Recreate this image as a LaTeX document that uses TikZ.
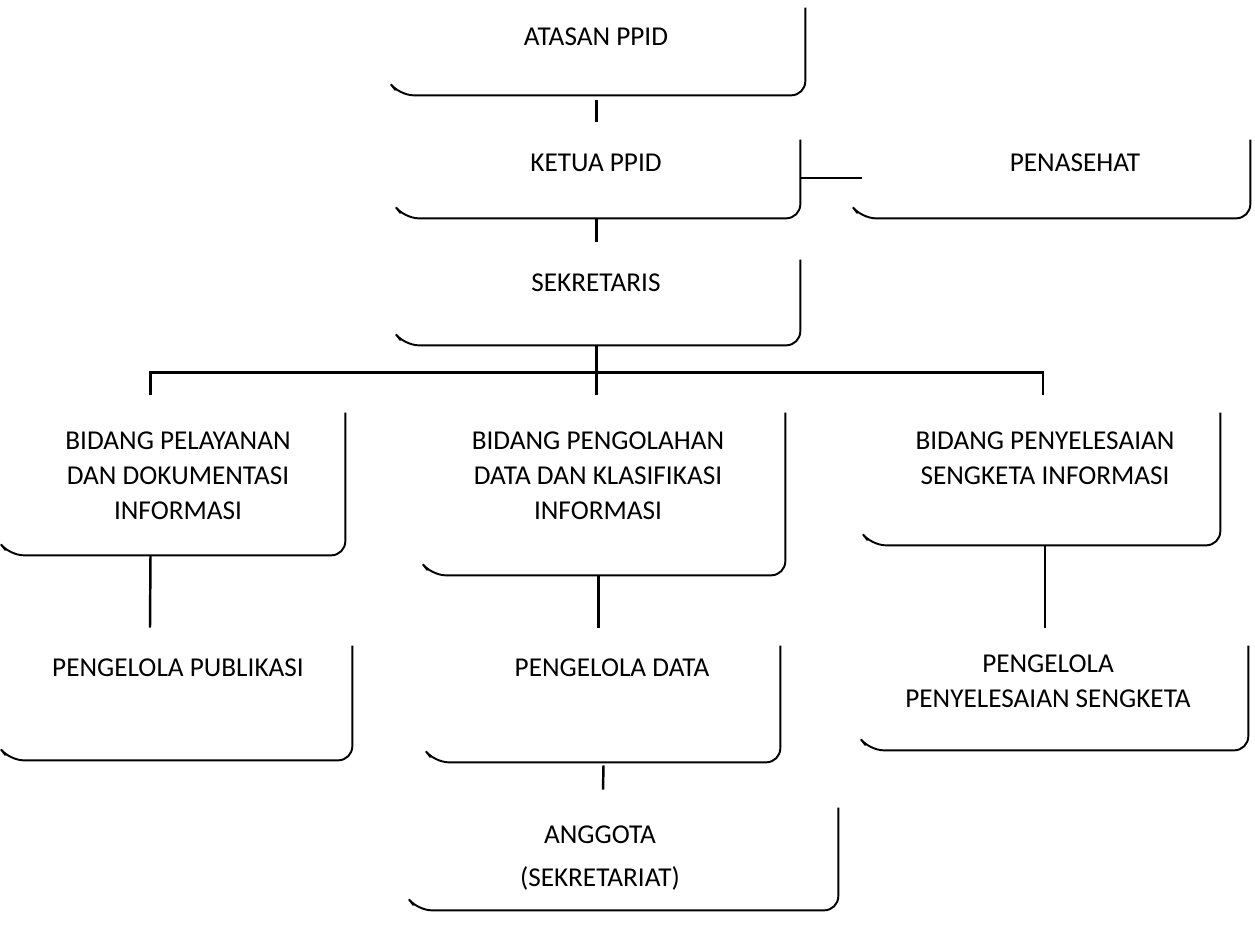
\documentclass[tikz,border=0pt]{standalone}
\usepackage{fontspec}
\setmainfont{Carlito}
\usetikzlibrary{positioning,calc}

\begin{document}
\begin{tikzpicture}[
    x=0.02cm, y=-0.02cm,
    box/.style={rectangle, inner sep=0pt},
    txt/.style={align=center, inner sep=0pt, font=\fontsize{15.5}{20}\selectfont},
    frame/.style={line width=1.1pt},
    link/.style={line width=1.4pt}
]
    \useasboundingbox (0,0) rectangle (1255,935);

    % boxes
    \node[box, minimum width=8.1cm, minimum height=2.1cm] (atasan) at (602.5,42.5) {};
    \node[box, minimum width=7.9cm, minimum height=1.92cm] (ketua) at (602.5,170) {};
    \node[box, minimum width=7.76cm, minimum height=1.92cm] (penasehat) at (1056,170) {};
    \node[box, minimum width=7.9cm, minimum height=2.06cm] (sekretaris) at (602.5,293.5) {};
    \node[box, minimum width=6.7cm, minimum height=3.2cm] (pelayanan) at (177.5,475) {};
    \node[box, minimum width=7.06cm, minimum height=3.6cm] (pengolahan) at (608.5,485) {};
    \node[box, minimum width=6.96cm, minimum height=3cm] (penyelesaian) at (1046,470) {};
    \node[box, minimum width=6.84cm, minimum height=2.64cm] (publikasi) at (181,694) {};
    \node[box, minimum width=6.9cm, minimum height=2.68cm] (pdata) at (607.5,695) {};
    \node[box, minimum width=7.56cm, minimum height=2.44cm] (psengketa) at (1059,689) {};
    \node[box, minimum width=8.4cm, minimum height=2.4cm] (anggota) at (628,850) {};

    \foreach \n in {atasan,ketua,penasehat,sekretaris,pelayanan,pengolahan,penyelesaian,publikasi,pdata,psengketa,anggota}
        \draw[frame] ($(\n.north east)+(0,18)$) [rounded corners=8pt] -- (\n.south east) -- (\n.south west) [sharp corners] -- ++(-4,-5);

    % labels
    \node[txt] (atasanT) at (596,37) {ATASAN PPID};
    \node[txt] (ketuaT) at (596,163) {KETUA PPID};
    \node[txt] (penasehatT) at (1075,163) {PENASEHAT};
    \node[txt] (sekretarisT) at (596,283) {SEKRETARIS};
    \node[txt] (pelayananT) at (178,476) {BIDANG PELAYANAN\\DAN DOKUMENTASI\\INFORMASI};
    \node[txt] (pengolahanT) at (598,476) {BIDANG PENGOLAHAN\\DATA DAN KLASIFIKASI\\INFORMASI};
    \node[txt] (penyelesaianT) at (1045,458) {BIDANG PENYELESAIAN\\SENGKETA INFORMASI};
    \node[txt] (publikasiT) at (178,668) {PENGELOLA PUBLIKASI};
    \node[txt] (pdataT) at (612,668) {PENGELOLA DATA};
    \node[txt] (psengketaT) at (1048,681) {PENGELOLA\\PENYELESAIAN SENGKETA};
    \node[txt] (anggotaT) at (600,858) {ANGGOTA\\[4.4pt](SEKRETARIAT)};

    % connectors
    \draw[link] ($(atasan.south)+(-6,5)$) -- ($(ketua.north)+(-6,0)$);
    \draw[link] ($(ketua.east)+(0,8)$) -- ($(penasehat.west)+(0,8)$);
    \draw[link] ($(ketua.south)+(-6,0)$) -- ($(sekretaris.north)+(-6,0)$);
    \draw[link] ($(sekretaris.south)+(-6,0)$) -- ++(0,27) coordinate (bus);
    \draw[link] ($(pelayanan.north)+(-27,0)$) |- (bus) -| ($(penyelesaian.north)+(-3,0)$);
    \draw[link] (bus) -- (bus |- pengolahan.north);
    \draw[link] ($(pelayanan.south)+(-27,0)$) -- ($(publikasi.north)+(-31,0)$);
    \draw[link] ($(pengolahan.south)+(-10,0)$) -- ($(pdata.north)+(-9,0)$);
    \draw[link] ($(penyelesaian.south)+(-1,0)$) -- ($(psengketa.north)+(-14,0)$);
    \draw[link] ($(pdata.south)+(-4,3)$) -- ($(anggota.north)+(-25,0)$);
\end{tikzpicture}
\end{document}
